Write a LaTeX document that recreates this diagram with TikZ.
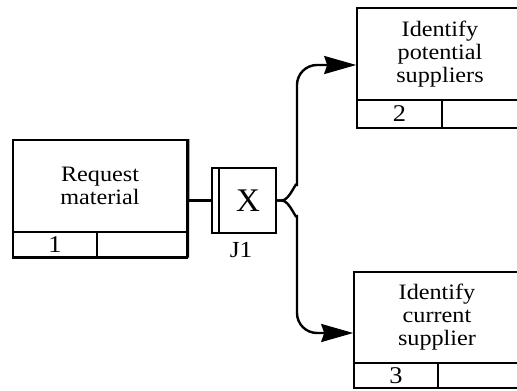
\documentclass[tikz,border=0pt]{standalone}
\usepackage{fontspec}
\setmainfont{Liberation Serif}
\newfontfamily\lblfont[FakeStretch=1.1]{Liberation Serif}
\usetikzlibrary{arrows.meta,calc}
\begin{document}
\begin{tikzpicture}[x=1pt,y=-1pt,
  uobox/.style={draw,line width=1.6pt,inner sep=0pt,align=center,
    font=\lblfont\fontsize{22}{23}\selectfont},
  cell/.style={draw,line width=1.4pt,inner sep=0pt,font=\lblfont\fontsize{24}{24}\selectfont},
  conn/.style={line width=2.4pt},
  arr/.style={conn,-{Stealth[length=32pt,width=18pt,inset=3pt]}}]
\useasboundingbox (0,0) rectangle (517,391);
% Box 1
\node[uobox,minimum width=174pt,minimum height=92pt] (b1) at (100,186) {Request\\material};
\node[cell,minimum width=84pt,minimum height=25pt] (b1n) at (55,244.5) {1};
\node[cell,minimum width=90pt,minimum height=25pt] (b1e) at (142,244.5) {};
\draw[line width=3pt] (b1.north east) -- (b1e.south east);
\draw[line width=2.4pt] (b1n.south west) -- (b1e.south east);
% Junction
\node[draw,line width=1.8pt,minimum width=64pt,minimum height=65pt,inner sep=0pt,
  font=\fontsize{33}{33}\selectfont] (j) at (244,200.5) {\hspace{8pt}X};
\draw[line width=1.4pt] ([xshift=8pt]j.north west) -- ([xshift=8pt]j.south west);
\node[font=\lblfont\fontsize{23}{23}\selectfont,inner sep=0pt] (jl) at (241,250) {J1};
% Box 2
\node[uobox,minimum width=166pt,minimum height=92pt] (b2) at (440,54) {Identify\\potential\\suppliers};
\node[cell,minimum width=85pt,minimum height=28pt] (b2n) at (399.5,114) {2};
\node[cell,minimum width=81pt,minimum height=28pt] (b2e) at (482.5,114) {};
% Box 3
\node[uobox,minimum width=166pt,minimum height=91pt] (b3) at (437,317.5) {Identify\\current\\supplier};
\node[cell,minimum width=84pt,minimum height=25pt] (b3n) at (396,375.5) {3};
\node[cell,minimum width=82pt,minimum height=25pt] (b3e) at (479,375.5) {};
% Connectors
\coordinate (a2) at ([yshift=-11pt]b2.west);
\coordinate (a3) at ([yshift=-15.5pt]b3.west);
\draw[conn] (j.west) -- (j.west -| b1.east);
\draw[arr] (j.east) -- ++(5,0) to[out=0,in=90] (297,186) -- (297,85)
  arc[start angle=180,end angle=90,radius=20pt] -- (a2);
\draw[arr] (j.east) -- ++(5,0) to[out=0,in=-90] (297,215) -- (297,313)
  arc[start angle=180,end angle=270,radius=20pt] -- (a3);
\end{tikzpicture}
\end{document}
